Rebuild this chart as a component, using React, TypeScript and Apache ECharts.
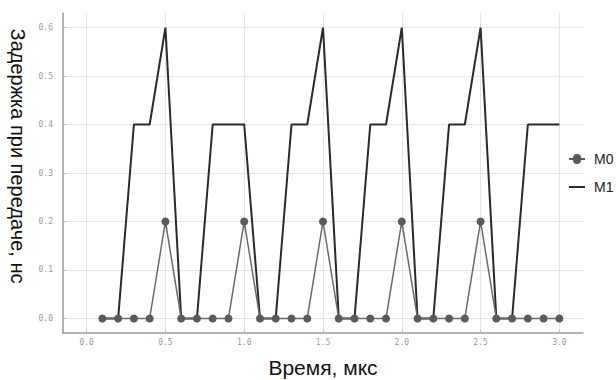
import React, { useEffect, useRef } from "react";
import * as echarts from "echarts";

const times = [0.1, 0.2, 0.3, 0.4, 0.5, 0.6, 0.7, 0.8, 0.9, 1.0, 1.1, 1.2, 1.3, 1.4, 1.5, 1.6, 1.7, 1.8, 1.9, 2.0, 2.1, 2.2, 2.3, 2.4, 2.5, 2.6, 2.7, 2.8, 2.9, 3.0];
const m0 = [0, 0, 0, 0, 0.2, 0, 0, 0, 0, 0.2, 0, 0, 0, 0, 0.2, 0, 0, 0, 0, 0.2, 0, 0, 0, 0, 0.2, 0, 0, 0, 0, 0];
const m1 = [0, 0, 0.4, 0.4, 0.6, 0, 0, 0.4, 0.4, 0.4, 0, 0, 0.4, 0.4, 0.6, 0, 0, 0.4, 0.4, 0.6, 0, 0, 0.4, 0.4, 0.6, 0, 0, 0.4, 0.4, 0.4];
const xTicks = [0.0, 0.5, 1.0, 1.5, 2.0, 2.5, 3.0];
const yTicks = [0.0, 0.1, 0.2, 0.3, 0.4, 0.5, 0.6];
const xTitle = "Время, мкс";
const yTitle = "Задержка при передаче, нс";

export default function App() {
  const ref = useRef<HTMLDivElement>(null);
  useEffect(() => {
    if (!ref.current) return;
    const chart = echarts.init(ref.current, null, { renderer: "svg" });
    const tickFont = { fontFamily: "DejaVu Sans Mono", fontSize: 8, color: "#9a9a9a" };
    chart.setOption({
      animation: false,
      backgroundColor: "#ffffff",
      grid: { left: 63, top: 13, width: 520, height: 320, containLabel: false, outerBoundsMode: "none" },
      graphic: [
        {
          type: "text",
          x: 18,
          y: 156,
          rotation: -Math.PI / 2,
          style: {
            text: yTitle,
            fontFamily: "Liberation Sans",
            fontSize: 20,
            fill: "#111",
            align: "center",
            verticalAlign: "middle",
          },
        },
      ],
      legend: {
        orient: "vertical",
        left: 564,
        top: 147,
        itemGap: 14,
        itemWidth: 16,
        itemHeight: 14,
        textStyle: { fontFamily: "Liberation Sans", fontSize: 14, color: "#222", padding: [0, 0, 0, 4] },
        data: [
          { name: "M0", icon: "path://M0,6 L4,6 A4,4 0 1 1 12,6 L16,6 L16,8 L12,8 A4,4 0 1 1 4,8 L0,8 Z" },
          { name: "M1", icon: "path://M0,0 L16,0 L16,2 L0,2 Z" },
        ],
      },
      xAxis: {
        type: "value",
        min: -0.15,
        max: 3.15,
        name: xTitle,
        nameLocation: "middle",
        nameGap: 24,
        nameTextStyle: { fontFamily: "Liberation Sans", fontSize: 21, color: "#111" },
        axisLine: { show: true, onZero: false, lineStyle: { color: "#999", width: 1.5 } },
        axisTick: { show: true, inside: true, length: 3, lineStyle: { color: "#bbb" }, customValues: xTicks },
        axisLabel: { ...tickFont, margin: 5, customValues: xTicks, formatter: (v: number) => v.toFixed(1) },
        splitLine: { show: true, lineStyle: { color: "#e6e6e6", width: 1 } },
      },
      yAxis: {
        type: "value",
        min: -0.03,
        max: 0.63,
        axisLine: { show: true, onZero: false, lineStyle: { color: "#999", width: 1.5 } },
        axisTick: { show: true, inside: true, length: 3, lineStyle: { color: "#bbb" }, customValues: yTicks },
        axisLabel: { ...tickFont, margin: 10, customValues: yTicks, formatter: (v: number) => v.toFixed(1) },
        splitLine: { show: true, lineStyle: { color: "#e6e6e6", width: 1 } },
      },
      series: [
        {
          name: "M0",
          type: "line",
          data: times.map((t, i) => [t, m0[i]]),
          symbol: "circle",
          symbolSize: 8,
          showSymbol: true,
          itemStyle: { color: "#5a5a5a" },
          lineStyle: { color: "#6a6a6a", width: 1.5 },
          z: 3,
        },
        {
          name: "M1",
          type: "line",
          data: times.map((t, i) => [t, m1[i]]),
          symbol: "none",
          showSymbol: false,
          itemStyle: { color: "#2a2a2a" },
          lineStyle: { color: "#2a2a2a", width: 2 },
          z: 2,
        },
      ],
    });
    return () => chart.dispose();
  }, []);
  return <div ref={ref} style={{ position: "fixed", left: 0, top: 0, width: 616, height: 380 }} />;
}
